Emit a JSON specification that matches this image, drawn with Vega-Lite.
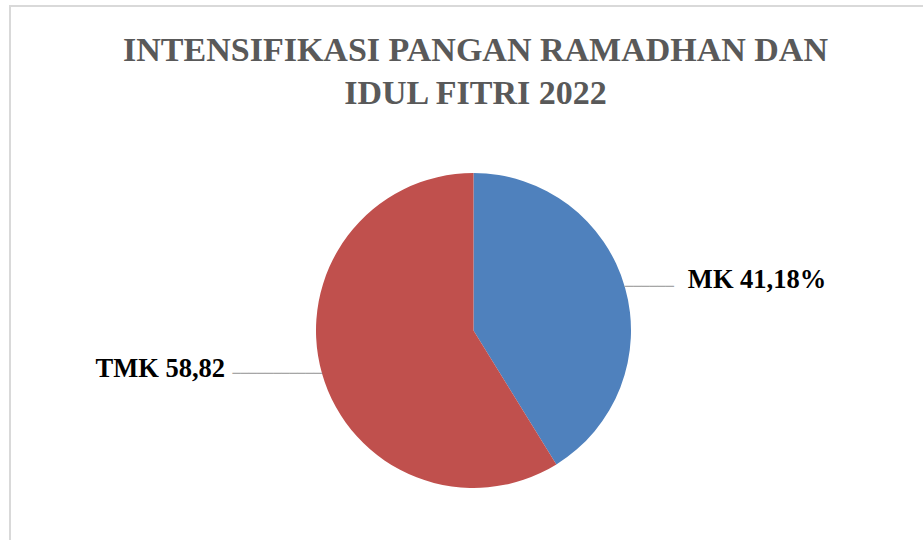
{
  "$schema": "https://vega.github.io/schema/vega-lite/v6.json",
  "autosize": {"type": "none"},
  "width": 927,
  "height": 649,
  "padding": {"left": 10, "top": 6, "right": 0, "bottom": 0},
  "background": "white",
  "view": {"stroke": "#D9D9D9", "strokeWidth": 2, "fill": "white"},
  "title": {
    "text": ["INTENSIFIKASI PANGAN RAMADHAN DAN", "IDUL FITRI 2022"],
    "font": "Liberation Serif",
    "fontSize": 34,
    "fontWeight": "bold",
    "color": "#595959",
    "anchor": "middle",
    "frame": "group",
    "baseline": "bottom",
    "lineHeight": 43,
    "offset": -139,
    "dx": 2
  },
  "data": {
    "values": [
      {"kategori": "MK", "persen": 41.18, "label": "MK 41,18%"},
      {"kategori": "TMK", "persen": 58.82, "label": "TMK 58,82"}
    ]
  },
  "encoding": {
    "theta": {"field": "persen", "type": "quantitative", "stack": true},
    "order": {"field": "kategori", "type": "ordinal"},
    "detail": {"field": "kategori", "type": "nominal"}
  },
  "layer": [
    {
      "mark": {"type": "arc", "radius": 157.5},
      "encoding": {
        "color": {
          "field": "kategori",
          "type": "nominal",
          "scale": {"domain": ["MK", "TMK"], "range": ["#4F81BD", "#C0504D"]},
          "legend": null
        }
      }
    },
    {
      "mark": {"type": "text", "radius": 170, "align": "left", "baseline": "middle", "dx": -12, "dy": 2.6, "font": "DejaVu Sans Mono", "fontSize": 13.5, "color": "#A6A6A6"},
      "encoding": {
        "text": {"condition": {"test": "datum.kategori === 'MK'", "value": "──────"}, "value": ""}
      }
    },
    {
      "mark": {"type": "text", "radius": 170, "align": "right", "baseline": "middle", "dx": 12, "dy": -3, "font": "DejaVu Sans Mono", "fontSize": 13.5, "color": "#A6A6A6"},
      "encoding": {
        "text": {"condition": {"test": "datum.kategori === 'TMK'", "value": "───────────"}, "value": ""}
      }
    },
    {
      "mark": {"type": "text", "radius": 200, "align": "left", "baseline": "alphabetic", "dx": 22, "dy": 12, "font": "Liberation Serif", "fontSize": 26.5, "fontWeight": "bold", "color": "#000000"},
      "encoding": {
        "text": {"condition": {"test": "datum.kategori === 'MK'", "field": "label"}, "value": ""}
      }
    },
    {
      "mark": {"type": "text", "radius": 200, "align": "right", "baseline": "alphabetic", "dx": -56, "dy": -8, "font": "Liberation Serif", "fontSize": 26.5, "fontWeight": "bold", "color": "#000000"},
      "encoding": {
        "text": {"condition": {"test": "datum.kategori === 'TMK'", "field": "label"}, "value": ""}
      }
    }
  ]
}
